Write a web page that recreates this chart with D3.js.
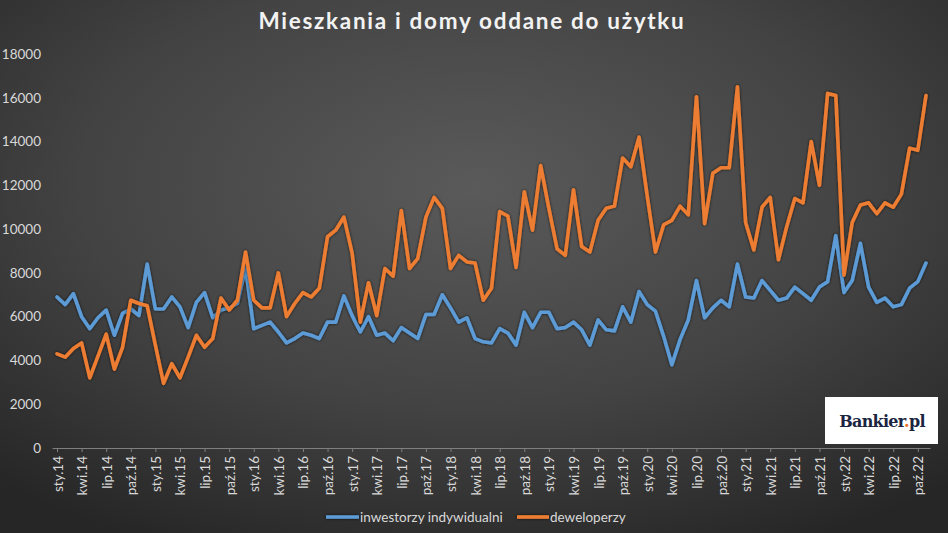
<!DOCTYPE html>
<html><head><meta charset="utf-8">
<script src="https://cdn.jsdelivr.net/npm/d3@7"></script>
<style>
html,body{margin:0;padding:0;background:#2b2b2b;}
svg{display:block;}
</style></head>
<body>
<svg id="chart" width="948" height="533"></svg>
<script>
const monthNames = ["sty","lut","mar","kwi","maj","cze","lip","sie","wrz","paź","lis","gru"];
const startYear = 2014;
const seriesNames = ["inwestorzy indywidualni","deweloperzy"];
const yTicks = [0,2000,4000,6000,8000,10000,12000,14000,16000,18000];

const inwestorzy = [6900,6550,7050,6000,5450,5950,6300,5150,6150,6350,6050,8400,
6350,6350,6900,6450,5500,6650,7100,5950,6300,6400,6600,8250,
5450,5600,5750,5300,4800,5000,5250,5150,5000,5750,5750,6950,
6050,5300,6000,5150,5250,4900,5500,5250,5000,6100,6100,7000,
6400,5750,5950,5000,4850,4800,5450,5250,4700,6200,5500,6200,
6200,5450,5500,5750,5400,4700,5850,5400,5350,6450,5750,7150,
6550,6250,5100,3800,4950,5850,7650,5950,6400,6750,6450,8400,
6900,6850,7650,7200,6750,6850,7350,7050,6750,7350,7600,9700,
7100,7650,9350,7350,6650,6850,6450,6550,7300,7600,8450];

const deweloperzy = [4300,4150,4550,4800,3200,4200,5200,3600,4600,6750,6600,6500,
4700,2950,3850,3200,4150,5150,4600,5000,6850,6300,6750,8950,
6750,6400,6400,8000,6000,6600,7100,6900,7300,9650,9950,10550,
8900,5750,7550,6050,8200,7850,10850,8200,8650,10550,11450,10950,
8200,8800,8500,8450,6750,7300,10800,10600,8250,11700,9950,12900,
10950,9100,8800,11800,9200,8950,10400,10950,11050,13250,12850,14200,
11500,8950,10200,10400,11050,10650,16050,10250,12550,12800,12800,16500,
10300,9050,11000,11450,8600,10100,11400,11200,14000,12000,16200,16100,
7900,10300,11100,11200,10700,11200,11000,11600,13700,13600,16100];

const categories = inwestorzy.map((_, i) => {
  const y = startYear + Math.floor(i / 12);
  return monthNames[i % 12] + "." + String(y).slice(2);
});
const tickCats = categories.filter((_, i) => i % 3 === 0);

const svg = d3.select("#chart");
const W = 948, H = 533;
const FONT = "Lato, 'Open Sans', sans-serif";

// background gradient
const defs = svg.append("defs");
const rg = defs.append("radialGradient").attr("id","bg")
  .attr("cx","50%").attr("cy","35%").attr("r","75%");
rg.append("stop").attr("offset","0%").attr("stop-color","#5a5a5a");
rg.append("stop").attr("offset","55%").attr("stop-color","#434343");
rg.append("stop").attr("offset","100%").attr("stop-color","#262626");
svg.append("rect").attr("width",W).attr("height",H).attr("fill","url(#bg)");

const sh = defs.append("filter").attr("id","shadow")
  .attr("filterUnits","userSpaceOnUse")
  .attr("x",0).attr("y",0).attr("width",W).attr("height",H);
sh.append("feDropShadow").attr("dx",0).attr("dy",0).attr("stdDeviation",1.6)
  .attr("flood-color","#000").attr("flood-opacity",0.75);

const x = d3.scalePoint().domain(categories).range([57, 926]);
const y = d3.scaleLinear().domain([0, 18000]).range([448, 54]);

// title
svg.append("text").attr("x", 472).attr("y", 29)
  .attr("text-anchor","middle")
  .attr("font-family",FONT)
  .attr("font-weight","bold").attr("font-size",22.5)
  .attr("letter-spacing","1.7")
  .attr("fill","#f2f2f2")
  .text("Mieszkania i domy oddane do użytku");

// y axis
const yAxis = d3.axisLeft(y).tickValues(yTicks).tickSize(0).tickPadding(0).tickFormat(d3.format("d"));
const gy = svg.append("g").attr("transform","translate(41,0)").call(yAxis);
gy.select(".domain").remove();
gy.selectAll("text").attr("fill","#d9d9d9").attr("font-size",13.5)
  .attr("font-family",FONT);

// x axis
const xAxis = d3.axisBottom(x).tickValues(tickCats).tickSize(4).tickPadding(0);
const gx = svg.append("g").attr("transform","translate(0,448)").call(xAxis);
gx.select(".domain").attr("stroke","#7f7f7f").attr("d","M52.5,0.5H930.5");
gx.selectAll(".tick line").attr("stroke","#7f7f7f");
gx.selectAll("text")
  .attr("fill","#d9d9d9").attr("font-size",13.5)
  .attr("font-family",FONT)
  .attr("text-anchor","end")
  .attr("dy",null)
  .attr("transform","translate(5,8) rotate(-90)")
  .attr("x",0).attr("y",0);

// lines
const colors = ["#5b9bd5","#ed7d31"];
const seriesData = [inwestorzy, deweloperzy];
const line = d3.line().x((d,i) => x(categories[i])).y(d => y(d));
seriesData.forEach((s, k) => {
  svg.append("path").datum(s)
    .attr("fill","none").attr("stroke",colors[k])
    .attr("stroke-width",3.6).attr("stroke-linejoin","round").attr("stroke-linecap","round")
    .attr("filter","url(#shadow)")
    .attr("d", line);
});

// legend
const legendPos = [[326, 360],[517, 550]];
seriesNames.forEach((n, k) => {
  svg.append("line").attr("x1",legendPos[k][0]).attr("x2",legendPos[k][1]-1)
    .attr("y1",517).attr("y2",517).attr("stroke",colors[k]).attr("stroke-width",3.6)
    .attr("filter","url(#shadow)");
  svg.append("text").attr("x",legendPos[k][1]).attr("y",521.5)
    .attr("fill","#d9d9d9").attr("font-size",13.5)
    .attr("font-family",FONT).text(n);
});

// Bankier.pl logo box
svg.append("rect").attr("x",825).attr("y",397).attr("width",113).attr("height",47).attr("fill","#ffffff");
const lt = svg.append("text").attr("x",882).attr("y",427).attr("text-anchor","middle")
  .attr("font-family","'DejaVu Serif', 'Liberation Serif', serif").attr("font-weight","bold")
  .attr("font-size",16).attr("fill","#1b2541").attr("letter-spacing","-0.7");
lt.append("tspan").text("Bankier");
lt.append("tspan").attr("fill","#e8702a").text(".");
lt.append("tspan").text("pl");
</script>
</body></html>
